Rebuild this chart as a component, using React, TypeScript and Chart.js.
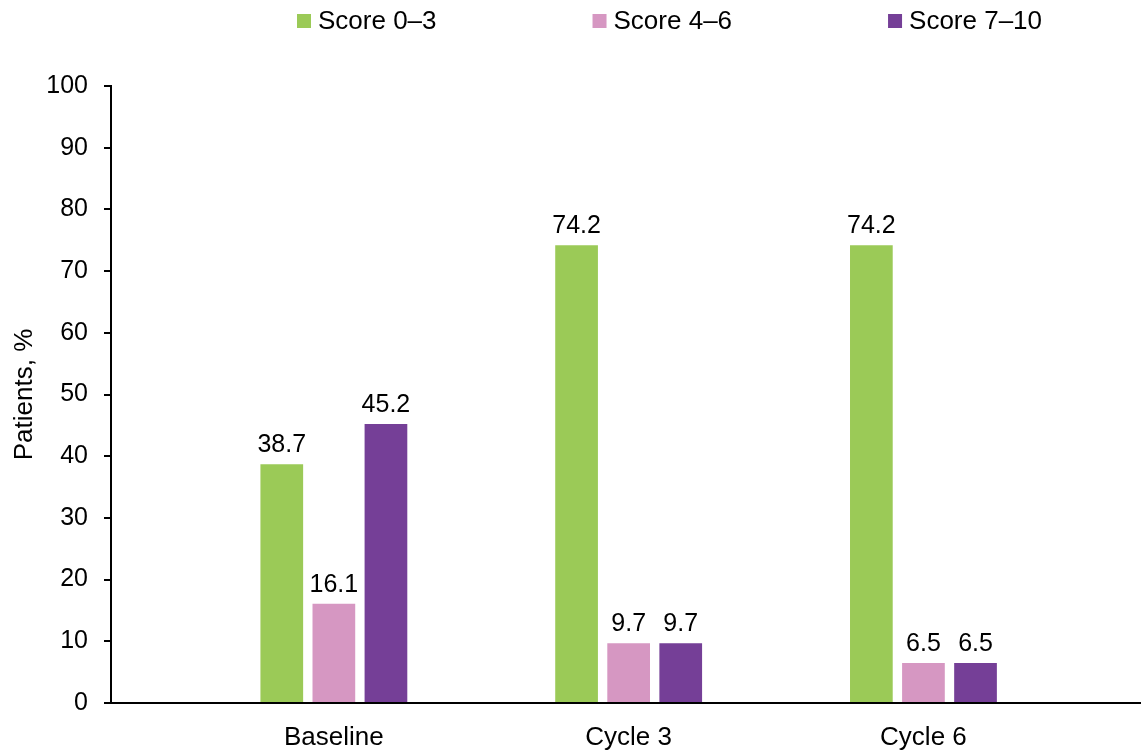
import React, { useEffect, useRef } from "react";
import { Chart, registerables } from "chart.js";

Chart.register(...registerables);

const categories = ["Baseline", "Cycle 3", "Cycle 6"];
const seriesNames = ["Score 0–3", "Score 4–6", "Score 7–10"];
const score03 = [38.7, 74.2, 74.2];
const score46 = [16.1, 9.7, 6.5];
const score710 = [45.2, 9.7, 6.5];
const seriesColors = ["#9BCA57", "#D697C2", "#753F97"];
const yTicks = [0, 10, 20, 30, 40, 50, 60, 70, 80, 90, 100];

const FONT = "'Liberation Sans', Arial, Helvetica, sans-serif";

const dataLabelPlugin = {
  id: "dataLabels",
  afterDatasetsDraw(chart: any) {
    const ctx = chart.ctx;
    ctx.save();
    ctx.font = `25px ${FONT}`;
    ctx.fillStyle = "#000";
    ctx.textAlign = "center";
    ctx.textBaseline = "alphabetic";
    chart.data.datasets.forEach((ds: any, i: number) => {
      const meta = chart.getDatasetMeta(i);
      meta.data.forEach((el: any, j: number) => {
        const v = ds.data[j].y;
        ctx.fillText(v.toFixed(1), el.x, el.y - 12);
      });
    });
    ctx.restore();
  },
};

const legendPlugin = {
  id: "customLegend",
  afterDraw(chart: any) {
    const ctx = chart.ctx;
    ctx.save();
    ctx.font = `26px ${FONT}`;
    ctx.textBaseline = "middle";
    ctx.textAlign = "left";
    let x = 297;
    const cy = 21;
    chart.data.datasets.forEach((ds: any) => {
      ctx.fillStyle = ds.backgroundColor;
      ctx.fillRect(x, cy - 7, 14, 14);
      ctx.fillStyle = "#000";
      ctx.fillText(ds.label, x + 21, cy + 1);
      const w = ctx.measureText(ds.label).width;
      x += 21 + w + 156;
    });
    ctx.restore();
  },
};

export default function App() {
  const ref = useRef<HTMLCanvasElement | null>(null);

  useEffect(() => {
    if (!ref.current) return;
    const series = [score03, score46, score710];
    const chart = new Chart(ref.current, {
      type: "bar",
      data: {
        datasets: series.map((vals, i) => ({
          label: seriesNames[i],
          data: vals.map((v, k) => ({ x: k, y: v })),
          backgroundColor: seriesColors[i],
          borderWidth: 0,
          categoryPercentage: 0.53,
          barPercentage: 0.82,
        })),
      },
      options: {
        responsive: false,
        animation: false,
        events: [],
        layout: { padding: { top: 86, left: 0, right: 0, bottom: 0 } },
        plugins: {
          legend: { display: false },
          tooltip: { enabled: false },
        },
        scales: {
          x: {
            type: "linear",
            offset: false,
            min: -0.756,
            max: 2.738,
            afterBuildTicks: (scale: any) => {
              scale.ticks = categories.map((_, i) => ({ value: i }));
            },
            afterFit: (scale: any) => {
              scale.height = 51;
            },
            grid: { display: false, drawTicks: false },
            border: { display: true, color: "#000", width: 2 },
            ticks: {
              color: "#000",
              font: { family: FONT, size: 26 },
              padding: 19,
              maxRotation: 0,
              autoSkip: false,
              callback: (v: any) => categories[v] ?? "",
            },
          },
          y: {
            min: 0,
            max: 100,
            afterBuildTicks: (scale: any) => {
              scale.ticks = yTicks.map((v) => ({ value: v }));
            },
            afterFit: (scale: any) => {
              scale.width = 111;
            },
            grid: {
              display: true,
              drawOnChartArea: false,
              drawTicks: true,
              tickLength: 7,
              color: "#000",
              lineWidth: 2,
            },
            border: { display: true, color: "#000", width: 2 },
            ticks: {
              color: "#000",
              font: { family: FONT, size: 25 },
              padding: 16,
            },
            title: {
              display: true,
              text: "Patients, %",
              color: "#000",
              font: { family: FONT, size: 26 },
              padding: { top: 9, bottom: 0 },
            },
          },
        },
      },
      plugins: [dataLabelPlugin, legendPlugin],
    } as any);
    return () => chart.destroy();
  }, []);

  return (
    <div style={{ position: "absolute", left: 0, top: 0, width: 1141, height: 754, background: "#fff" }}>
      <canvas ref={ref} width={1141} height={754} />
    </div>
  );
}
